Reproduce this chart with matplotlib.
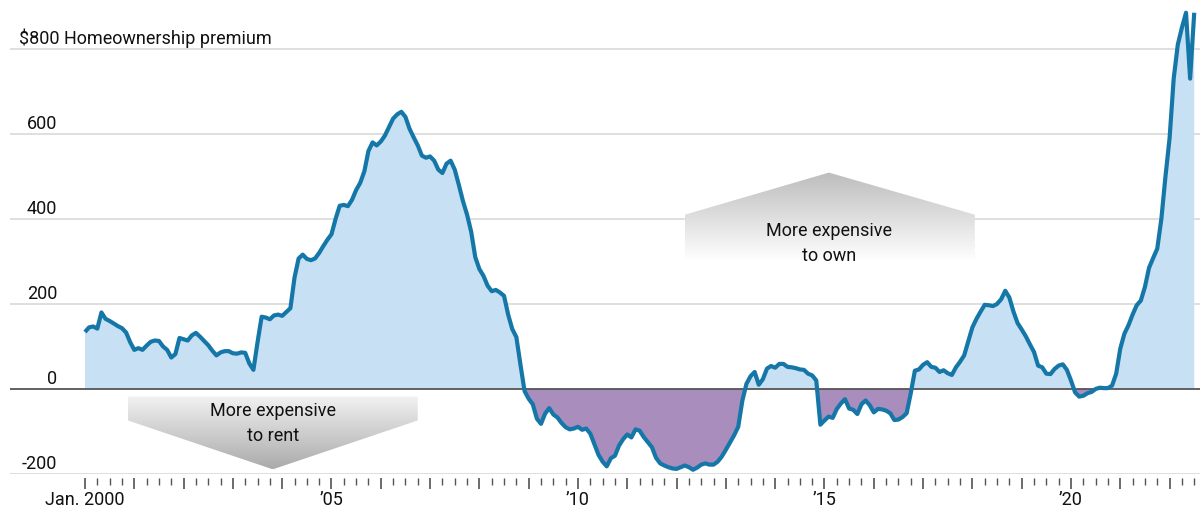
import numpy as np
import matplotlib
matplotlib.use('Agg')
import matplotlib.pyplot as plt
from matplotlib.patches import Polygon
from matplotlib.colors import LinearSegmentedColormap
from matplotlib.ticker import FixedLocator, NullFormatter
from matplotlib.transforms import blended_transform_factory

# ---------------- data ----------------
start_year = 2000  # monthly series beginning Jan. 2000
premium = [
    134, 145, 147, 142, 180, 165, 160, 154, 148, 143, 133, 110,   # 2000
    92, 96, 92, 102, 111, 114, 113, 100, 92, 74, 82, 120,          # 2001
    117, 114, 126, 132, 123, 113, 103, 90, 79, 86, 89, 89,         # 2002
    84, 83, 86, 85, 60, 45, 110, 170, 168, 164, 173, 175,          # 2003
    172, 181, 190, 262, 307, 316, 306, 303, 307, 320, 336, 351,    # 2004
    364, 400, 431, 433, 430, 445, 468, 485, 512, 560, 580, 573,    # 2005
    582, 596, 616, 636, 646, 652, 640, 612, 592, 573, 549, 544,    # 2006
    547, 537, 516, 508, 530, 537, 516, 480, 442, 410, 370, 310,    # 2007
    282, 266, 243, 230, 233, 227, 219, 175, 141, 122, 57, -5,      # 2008
    -23, -36, -70, -82, -58, -45, -60, -67, -80, -90, -95, -93,    # 2009
    -89, -96, -93, -105, -130, -155, -171, -182, -163, -157, -133, -118,  # 2010
    -107, -114, -95, -98, -113, -125, -137, -162, -175, -180, -184, -187,  # 2011
    -188, -184, -180, -184, -190, -185, -178, -175, -178, -178, -171, -159,  # 2012
    -143, -126, -109, -89, -28, 12, 30, 40, 10, 23, 48, 54,        # 2013
    50, 59, 59, 52, 51, 49, 46, 45, 36, 32, 20, -84,               # 2014
    -74, -65, -68, -47, -34, -24, -46, -49, -59, -36, -27, -38,    # 2015
    -55, -47, -48, -51, -57, -73, -72, -66, -57, -10, 43, 46,      # 2016
    57, 63, 52, 50, 40, 44, 37, 33, 51, 64, 79, 112,               # 2017
    145, 165, 182, 198, 197, 195, 200, 211, 231, 215, 182, 155,    # 2018
    140, 124, 105, 87, 55, 51, 36, 35, 47, 55, 58, 45,             # 2019
    20, -8, -18, -16, -10, -7, 0, 3, 2, 2, 8, 36,                  # 2020
    95, 130, 150, 175, 197, 208, 240, 285, 308, 330, 400, 500,     # 2021
    590, 730, 810, 850, 885, 730, 885,                             # 2022
]
dates = start_year + np.arange(len(premium)) / 12.0
values = np.array(premium, dtype=float)

y_ticks = [-200, 0, 200, 400, 600, 800]
y_tick_labels = ['-200', '0', '200', '400', '600', '$800 Homeownership premium']
x_label_years = [2000, 2005, 2010, 2015, 2020]
x_labels = ['Jan. 2000', '\u201905', '\u201910', '\u201915', '\u201920']

# ---------------- style ----------------
plt.rcParams['font.family'] = ['Roboto', 'DejaVu Sans']

LINE = '#1577a8'
POS_FILL = '#c8e0f4'
NEG_FILL = '#a98dbd'
GRID = '#dcdcdc'
ZERO = '#555555'
TXT = '#111111'
FS = 13

W, H = 1200, 511
fig = plt.figure(figsize=(W / 100, H / 100), dpi=100)
ax = fig.add_axes([10 / W, 1 - 474 / H, 1190 / W, 474 / H])

x_left, x_right = 1998.479, 2022.617
y_bot, y_top = -200, 915

# fills
ax.fill_between(dates, values, 0, where=values >= 0, interpolate=True,
                color=POS_FILL, lw=0, zorder=2)
ax.fill_between(dates, values, 0, where=values <= 0, interpolate=True,
                color=NEG_FILL, lw=0, zorder=2)

# grid lines
for yt in y_ticks:
    if yt == 0:
        ax.axhline(yt, color=ZERO, lw=1.3, zorder=3)
    else:
        ax.axhline(yt, color=GRID, lw=1.3, zorder=1)

# line
ax.plot(dates, values, color=LINE, lw=3.0, solid_joinstyle='round',
        solid_capstyle='butt', zorder=4)

# y labels drawn inside the plot, above their grid lines
tr = blended_transform_factory(ax.transAxes, ax.transData)
for yt, lab in zip(y_ticks, y_tick_labels):
    if lab.startswith('$'):
        ax.text(0.0076, yt + 12, lab, transform=tr, ha='left', va='baseline',
                fontsize=FS, color=TXT)
    else:
        ax.text(0.0395, yt + 12, lab, transform=tr, ha='right', va='baseline',
                fontsize=FS, color=TXT)


def gradient_shape(verts, top_color, bottom_color):
    poly = Polygon(verts, closed=True, facecolor='none', edgecolor='none',
                   transform=ax.transData)
    ax.add_patch(poly)
    xs = [v[0] for v in verts]
    ys = [v[1] for v in verts]
    grad = np.linspace(0, 1, 256).reshape(-1, 1)
    cmap = LinearSegmentedColormap.from_list('g', [bottom_color, top_color])
    im = ax.imshow(grad, extent=[min(xs), max(xs), min(ys), max(ys)],
                   origin='lower', aspect='auto', cmap=cmap, zorder=1.5,
                   interpolation='bilinear')
    im.set_clip_path(poly)


# "More expensive to own" (pointing up)
gradient_shape([(2012.17, 300), (2012.17, 410), (2015.09, 509),
                (2018.05, 410), (2018.05, 300)], '#bdbdbd', '#ffffff')
ax.text(2015.09, 372, 'More expensive', ha='center', va='center', fontsize=FS, color=TXT)
ax.text(2015.09, 312, 'to own', ha='center', va='center', fontsize=FS, color=TXT)

# "More expensive to rent" (pointing down)
gradient_shape([(2000.87, -18), (2006.75, -18), (2006.75, -74),
                (2003.81, -189), (2000.87, -74)], '#f2f2f2', '#aaaaaa')
ax.text(2003.81, -52, 'More expensive', ha='center', va='center', fontsize=FS, color=TXT)
ax.text(2003.81, -110, 'to rent', ha='center', va='center', fontsize=FS, color=TXT)

# axes cosmetics
ax.set_xlim(x_left, x_right)
ax.set_ylim(y_bot, y_top)
for s in ax.spines.values():
    s.set_visible(False)
ax.spines['bottom'].set_position(('outward', 3))
ax.set_yticks([])

major = list(range(2000, 2023))
minor = [2000 + q / 4 for q in range(0, 91) if q % 4 != 0]
ax.xaxis.set_major_locator(FixedLocator(major))
ax.xaxis.set_minor_locator(FixedLocator(minor))
ax.set_xticklabels([x_labels[x_label_years.index(y)] if y in x_label_years else ''
                    for y in major])
ax.xaxis.set_minor_formatter(NullFormatter())
ax.tick_params(axis='x', which='major', length=8, width=1.1, color='#444444',
               labelsize=FS, labelcolor=TXT, pad=1)
ax.tick_params(axis='x', which='minor', length=5, width=1.0, color='#555555')

fig.savefig('out.png', dpi=100, facecolor='white')
